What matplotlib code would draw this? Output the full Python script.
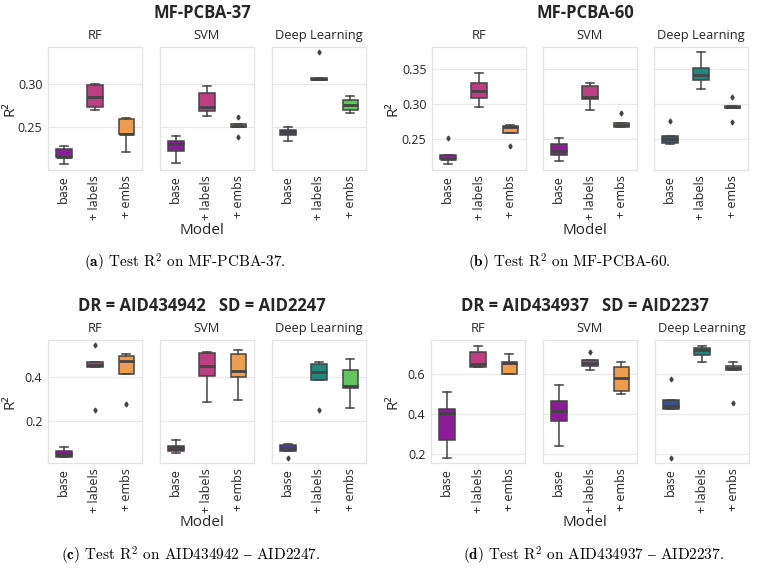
import matplotlib.pyplot as plt
from matplotlib.ticker import MultipleLocator

W, H = 758, 568

models = ['RF', 'SVM', 'Deep Learning']
variants = ['base', '+ labels', '+ embs']

# box colours per model (base, + labels, + embs)
colors = {
    'RF': ['#8C1D98', '#BC3F82', '#EA9E50'],
    'SVM': ['#8C1D98', '#BC3F82', '#EA9E50'],
    'Deep Learning': ['#3C5096', '#23867D', '#62C560'],
}

# box summaries: rows = RF, SVM, DL ; cols = base, +labels, +embs
pcba37_lo = [[0.207, 0.270, 0.221], [0.209, 0.2636, 0.250], [0.2345, 0.305, 0.267]]
pcba37_q1 = [[0.215, 0.274, 0.2422], [0.2225, 0.2694, 0.250], [0.241, 0.305, 0.270]]
pcba37_med = [[0.2158, 0.2853, 0.2425], [0.230, 0.274, 0.2512], [0.2442, 0.3062, 0.2764]]
pcba37_q3 = [[0.2248, 0.2992, 0.2597], [0.2345, 0.2903, 0.2535], [0.2469, 0.3074, 0.2818]]
pcba37_hi = [[0.2283, 0.300, 0.2605], [0.240, 0.298, 0.2535], [0.2508, 0.3074, 0.2868]]
pcba37_out = [[[], [], []], [[], [], [0.2624, 0.2384]], [[], [0.338], []]]

pcba60_lo = [[0.2143, 0.2967, 0.2586], [0.219, 0.2914, 0.2681], [0.2433, 0.3219, 0.2943]]
pcba60_q1 = [[0.2214, 0.3095, 0.2586], [0.2276, 0.3076, 0.2681], [0.2452, 0.3348, 0.2943]]
pcba60_med = [[0.2224, 0.3195, 0.2681], [0.2338, 0.311, 0.270], [0.251, 0.3424, 0.2957]]
pcba60_q3 = [[0.2276, 0.330, 0.2695], [0.2429, 0.3262, 0.2729], [0.2548, 0.3524, 0.2976]]
pcba60_hi = [[0.2276, 0.3452, 0.271], [0.2514, 0.330, 0.2729], [0.2548, 0.3743, 0.2976]]
pcba60_out = [[[0.2514], [], [0.2405]], [[], [], [0.2871]], [[0.2757], [], [0.310, 0.2748]]]

aid2247_lo = [[0.035, 0.4472, 0.4137], [0.0547, 0.2882, 0.2974], [0.0638, 0.3862, 0.2593]]
aid2247_q1 = [[0.035, 0.4472, 0.4137], [0.0624, 0.4046, 0.4014], [0.0638, 0.3862, 0.3526]]
aid2247_med = [[0.047, 0.4577, 0.4747], [0.0746, 0.4504, 0.4302], [0.0761, 0.4257, 0.3618]]
aid2247_q3 = [[0.0624, 0.4687, 0.499], [0.0853, 0.5127, 0.5053], [0.0885, 0.4609, 0.4334]]
aid2247_hi = [[0.0793, 0.4687, 0.508], [0.1142, 0.516, 0.5236], [0.0931, 0.4715, 0.4825]]
aid2247_out = [[[], [0.548, 0.2516], [0.279]], [[], [], []], [[0.029], [0.2516], []]]

aid2237_lo = [[0.1817, 0.6367, 0.600], [0.2383, 0.6217, 0.4983], [0.425, 0.660, 0.6183]]
aid2237_q1 = [[0.268, 0.6367, 0.600], [0.3667, 0.640, 0.515], [0.425, 0.695, 0.6183]]
aid2237_med = [[0.4067, 0.6517, 0.6533], [0.4133, 0.655, 0.5783], [0.4417, 0.720, 0.630]]
aid2237_q3 = [[0.425, 0.7083, 0.6617], [0.4667, 0.6683, 0.6333], [0.4717, 0.7317, 0.640]]
aid2237_hi = [[0.5117, 0.7417, 0.700], [0.545, 0.6683, 0.6617], [0.4717, 0.7383, 0.660]]
aid2237_out = [[[], [], []], [[], [0.7117], []], [[0.5733, 0.1783], [], [0.4567]]]

panels = [
    dict(title='MF-PCBA-37', caption=r'$\mathbf{(a)}$ Test R$^{2}$ on MF-PCBA-37.',
         xs=[48, 160, 272], top=47, bottom=170, ylim=(0.2003, 0.3434), step=0.05,
         fmt='{:.2f}', title_x=202, model_x=202, cap_x=185, ylab_x=10,
         data=(pcba37_lo, pcba37_q1, pcba37_med, pcba37_q3, pcba37_hi, pcba37_out)),
    dict(title='MF-PCBA-60', caption=r'$\mathbf{(b)}$ Test R$^{2}$ on MF-PCBA-60.',
         xs=[432, 543, 654], top=47, bottom=170, ylim=(0.2061, 0.3819), step=0.05,
         fmt='{:.2f}', title_x=585, model_x=585, cap_x=569, ylab_x=393,
         data=(pcba60_lo, pcba60_q1, pcba60_med, pcba60_q3, pcba60_hi, pcba60_out)),
    dict(title='DR = AID434942   SD = AID2247',
         caption=r'$\mathbf{(c)}$ Test R$^{2}$ on AID434942 $–$ AID2247.',
         xs=[48, 160, 272], top=340, bottom=463, ylim=(0.0074, 0.571), step=0.2,
         fmt='{:.1f}', title_x=202, model_x=202, cap_x=191, ylab_x=10,
         data=(aid2247_lo, aid2247_q1, aid2247_med, aid2247_q3, aid2247_hi, aid2247_out)),
    dict(title='DR = AID434937   SD = AID2237',
         caption=r'$\mathbf{(d)}$ Test R$^{2}$ on AID434937 $–$ AID2237.',
         xs=[431, 543, 655], top=340, bottom=463, ylim=(0.155, 0.770), step=0.2,
         fmt='{:.1f}', title_x=585, model_x=585, cap_x=594, ylab_x=393,
         data=(aid2237_lo, aid2237_q1, aid2237_med, aid2237_q3, aid2237_hi, aid2237_out)),
]

SANS = ['Open Sans', 'DejaVu Sans']
LINE = '#444444'
AXW = 94

fig = plt.figure(figsize=(W / 100, H / 100), dpi=100)


def px(x, y):
    return x / W, 1 - y / H


for p in panels:
    lo, q1, med, q3, hi, out = p['data']
    h = p['bottom'] - p['top']
    for i, m in enumerate(models):
        x0, y0 = px(p['xs'][i], p['bottom'])
        ax = fig.add_axes([x0, y0, AXW / W, h / H])
        stats = []
        for j in range(3):
            stats.append(dict(med=med[i][j], q1=q1[i][j], q3=q3[i][j],
                              whislo=lo[i][j], whishi=hi[i][j], fliers=out[i][j]))
        bp = ax.bxp(stats, positions=[0, 1, 2], widths=0.5, capwidths=0.25,
                    patch_artist=True, showfliers=True,
                    boxprops=dict(edgecolor=LINE, linewidth=1.1),
                    medianprops=dict(color=LINE, linewidth=2.0),
                    whiskerprops=dict(color=LINE, linewidth=1.1),
                    capprops=dict(color=LINE, linewidth=1.1),
                    flierprops=dict(marker='d', markerfacecolor=LINE,
                                    markeredgecolor=LINE, markersize=2.5))
        for box, c in zip(bp['boxes'], colors[m]):
            box.set_facecolor(c)
        ax.set_xlim(-0.5, 2.5)
        ax.set_ylim(*p['ylim'])
        ax.yaxis.set_major_locator(MultipleLocator(p['step']))
        ax.grid(axis='y', color='#EAEAEA', linewidth=0.9)
        ax.set_axisbelow(True)
        for s in ax.spines.values():
            s.set_color('#E3E3E3')
            s.set_linewidth(0.9)
        ax.tick_params(length=0, pad=4, labelsize=9)
        ax.set_xticks([0, 1, 2])
        ax.set_xticklabels(variants, rotation=90, family=SANS, fontsize=9, color='#262626')
        if i == 0:
            ticks = ax.get_yticks()
            ax.set_yticks(ticks)
            ax.set_yticklabels([p['fmt'].format(t) for t in ticks], family=SANS,
                               fontsize=9, color='#262626')
            ax.set_ylim(*p['ylim'])
        else:
            ax.set_yticklabels([])
        ax.set_title(m, family=SANS, fontsize=9.3, color='#262626', pad=6)

    fig.text(*px(p['title_x'], p['top'] - 34), p['title'], family=SANS, fontsize=12,
             fontweight='bold', color='#262626', ha='center', va='center')
    fig.text(*px(p['ylab_x'], (p['top'] + p['bottom']) / 2), 'R²', family=SANS,
             fontsize=11, color='#262626', rotation=90, ha='center', va='center')
    fig.text(*px(p['model_x'], p['bottom'] + 60), 'Model', family=SANS, fontsize=11,
             color='#262626', ha='center', va='center')
    fig.text(*px(p['cap_x'], p['bottom'] + 93), p['caption'],
             family=['cmr10', 'DejaVu Serif'], math_fontfamily='cm', fontsize=11,
             color='black', ha='center', va='center')

fig.savefig('out.png', dpi=100)
